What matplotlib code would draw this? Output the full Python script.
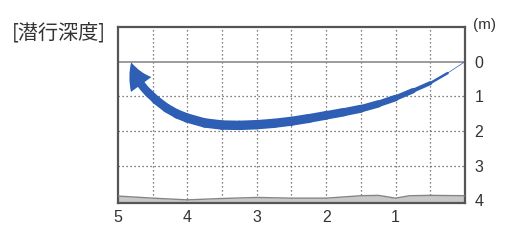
import numpy as np
import matplotlib
matplotlib.use("Agg")
import matplotlib.pyplot as plt
from matplotlib.collections import LineCollection
from matplotlib.patches import FancyArrowPatch

plt.rcParams['font.family'] = ['Noto Sans CJK JP', 'DejaVu Sans']

# track of the dive: distance (x) vs depth (m)
track_x = [0.0, 0.25, 0.5, 0.75, 1.0, 1.25, 1.5, 1.75, 2.0, 2.25, 2.5, 2.75,
           3.0, 3.25, 3.5, 3.75, 4.0, 4.15, 4.3, 4.45, 4.56]
track_d = [0.0, 0.33, 0.62, 0.84, 1.05, 1.22, 1.36, 1.46, 1.55, 1.64, 1.72, 1.78,
           1.82, 1.84, 1.83, 1.77, 1.63, 1.51, 1.34, 1.11, 0.90]
track_w = [0.5, 1.8, 2.9, 3.9, 4.7, 5.3, 5.8, 6.1, 6.3, 6.5, 6.6, 6.7,
           6.8, 6.8, 6.8, 6.7, 6.6, 6.4, 6.2, 6.0]
arrow_tip = (4.81, 0.02)

# sea floor
floor_x = [0.0, 0.5, 0.8, 1.0, 1.25, 1.5, 2.0, 2.5, 3.0, 3.5, 4.0, 4.5, 5.0]
floor_d = [3.87, 3.86, 3.87, 3.94, 3.86, 3.87, 3.94, 3.94, 3.92, 3.95, 3.99, 3.94, 3.88]

x_ticks = [1, 2, 3, 4, 5]
y_ticks = [0, 1, 2, 3, 4]

fig = plt.figure(figsize=(5.21, 2.41), dpi=100)
ax = fig.add_axes([0.2265, 0.1577, 0.666, 0.7303])
ax.set_xlim(5, 0)
ax.set_ylim(4.08, -1.0)

# grid
for gx in np.arange(0.5, 5.0, 0.5):
    ax.axvline(gx, color='#555555', lw=0.9, ls=(0, (1, 2.2)), zorder=1)
for gy in [1, 2, 3]:
    ax.axhline(gy, color='#555555', lw=0.9, ls=(0, (1, 2.2)), zorder=1)
ax.axhline(0, color='#8a8a8a', lw=1.2, zorder=2)

# sea floor
ax.fill_between(floor_x, floor_d, 4.08, color='#c8c8c8', zorder=2, lw=0)
ax.plot(floor_x, floor_d, color='#858585', lw=1.0, zorder=3)

# tapered track
pts = np.column_stack([track_x, track_d])
segs = np.stack([pts[:-1], pts[1:]], axis=1)
lc = LineCollection(segs, linewidths=track_w, colors='#2e5fb4', capstyle='round',
                    joinstyle='round', zorder=4)
ax.add_collection(lc)
arr = FancyArrowPatch((track_x[-1], track_d[-1]), arrow_tip,
                      arrowstyle='simple,head_length=1.25,head_width=1.3,tail_width=0.42',
                      connectionstyle='arc3,rad=-0.15',
                      mutation_scale=14, color='#2e5fb4', lw=0, zorder=5,
                      shrinkA=0, shrinkB=0)
ax.add_patch(arr)

# axes styling
for s in ax.spines.values():
    s.set_color('#555555')
    s.set_linewidth(1.6)
ax.set_xticks(x_ticks)
ax.set_xticks(np.arange(0.5, 5.0, 0.5), minor=True)
ax.set_xticklabels([str(v) for v in x_ticks])
ax.tick_params(axis='x', which='both', direction='in', length=3, width=0.9,
               color='#555555', labelsize=11.5, labelcolor='#333333', pad=5)
ax.yaxis.tick_right()
ax.set_yticks(y_ticks)
ax.set_yticklabels([str(v) for v in y_ticks])
ax.tick_params(axis='y', length=0, labelsize=11.5, labelcolor='#333333', pad=7)
for lab in ax.get_xticklabels() + ax.get_yticklabels():
    lab.set_family(['Liberation Sans', 'DejaVu Sans'])

fig.text(0.907, 0.897, '(m)', fontsize=11, color='#333333',
         family=['Liberation Sans', 'DejaVu Sans'], va='center', ha='left')
fig.text(0.022, 0.862, '[潜行深度]', fontsize=14.5, color='#333333',
         va='center', ha='left')

fig.savefig('out.png', dpi=100)
